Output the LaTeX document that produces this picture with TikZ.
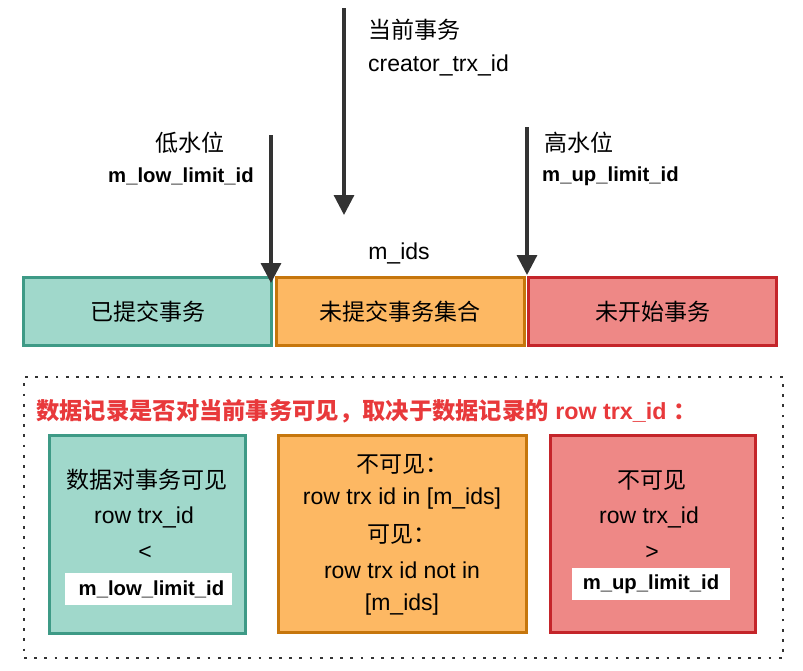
\documentclass[tikz,border=0pt]{standalone}
\usepackage{fontspec}
\setmainfont{Liberation Sans}
\newfontfamily\cjk{Noto Sans CJK SC}
\usetikzlibrary{arrows.meta}
\definecolor{tealfill}{HTML}{A0D8CB}
\definecolor{tealline}{HTML}{3E9A86}
\definecolor{orangefill}{HTML}{FDB863}
\definecolor{orangeline}{HTML}{C6760C}
\definecolor{redfill}{HTML}{EE8886}
\definecolor{redline}{HTML}{C4252A}
\definecolor{headred}{HTML}{E8393B}
\definecolor{arrowgray}{HTML}{333333}
\tikzset{
  box/.style={draw, line width=3pt, inner sep=0pt},
  topbox/.style={box, minimum width=248pt, minimum height=68pt},
  lbl/.style={inner sep=0pt, font=\fontsize{23}{27}\selectfont},
  bl/.style={inner sep=0pt, font=\fontsize{20.3}{24}\selectfont\bfseries},
  whitelbl/.style={fill=white, inner sep=0pt, minimum height=32pt, font=\fontsize{20.3}{24}\selectfont\bfseries},
  arr/.style={draw=arrowgray, line width=3.2pt, -{Triangle[length=20pt,width=20pt]}},
  frame/.style={draw=arrowgray, line width=2.8pt, dash pattern=on 2.8pt off 7.4pt},
}
\begin{document}
\begin{tikzpicture}[x=1pt,y=-1pt]
\useasboundingbox (0,0) rectangle (803,670);

% top boxes
\node[topbox, fill=tealfill, draw=tealline] (commit) at (147.5,311.5) {};
\node[topbox, fill=orangefill, draw=orangeline] (uncommit) at (400,311.5) {};
\node[topbox, fill=redfill, draw=redline] (notstart) at (652.5,311.5) {};
\node[lbl] (commitT) at (commit.center) {\cjk 已提交事务};
\node[lbl] (uncommitT) at (uncommit.center) {\cjk 未提交事务集合};
\node[lbl] (notstartT) at (notstart.center) {\cjk 未开始事务};

% arrows
\coordinate (curS) at (344,8);
\coordinate (curE) at (344,215);
\draw[arr] (curS) -- (curE);
\coordinate (lowS) at (271,135);
\coordinate (lowE) at (271,283);
\draw[arr] (lowS) -- (lowE);
\coordinate (upS) at (527,127);
\coordinate (upE) at (527,275);
\draw[arr] (upS) -- (upE);

% top labels
\node[lbl, anchor=west] (curT) at (368,30) {\cjk 当前事务};
\node[lbl, anchor=west] (creator) at (368,65) {creator\_trx\_id};
\node[lbl] (lowT) at (190,143) {\cjk 低水位};
\node[bl] (lowId) at (181,176) {m\_low\_limit\_id};
\node[lbl, anchor=west] (upT) at (544,143) {\cjk 高水位};
\node[bl, anchor=west] (upId) at (542,176) {m\_up\_limit\_id};
\node[lbl] (mids) at (399,253) {m\_ids};

% dotted frame
\node[frame, minimum width=759pt, minimum height=281pt, inner sep=0pt] (frame) at (403.5,517.5) {};

% heading
\node[inner sep=0pt, anchor=west, text=headred, font=\fontsize{23.3}{28}\selectfont\bfseries] (head) at (36,411)
  {{\cjk 数据记录是否对当前事务可见，取决于数据记录的} row trx\_id {\cjk ：}};

% bottom boxes
\node[box, fill=tealfill, draw=tealline, minimum width=196pt, minimum height=198pt] (vis) at (147,534) {};
\node[box, fill=orangefill, draw=orangeline, minimum width=248pt, minimum height=197pt] (mid) at (402,533.5) {};
\node[box, fill=redfill, draw=redline, minimum width=205pt, minimum height=197pt] (invis) at (652.5,533.5) {};

% teal box text
\node[lbl] (v1) at (147,480) {\cjk 数据对事务可见};
\node[lbl] (v2) at (144,517) {row trx\_id};
\node[lbl] (v3) at (145,553) {<};
\node[whitelbl, minimum width=167pt] (v4) at (148.5,589) {\hspace*{6pt}m\_low\_limit\_id};

% orange box text
\node[lbl] (m1) at (402,464) {\cjk 不可见：};
\node[lbl] (m2) at (402,499) {row trx id in [m\_ids]};
\node[lbl] (m3) at (402,534) {\cjk 可见：};
\node[lbl] (m4) at (402,570) {row trx id not in};
\node[lbl] (m5) at (402,605) {[m\_ids]};

% red box text
\node[lbl] (i1) at (652,480) {\cjk 不可见};
\node[lbl] (i2) at (649,517) {row trx\_id};
\node[lbl] (i3) at (652,553) {>};
\node[whitelbl, minimum width=158pt] (i4) at (651,584) {m\_up\_limit\_id};
\end{tikzpicture}
\end{document}
